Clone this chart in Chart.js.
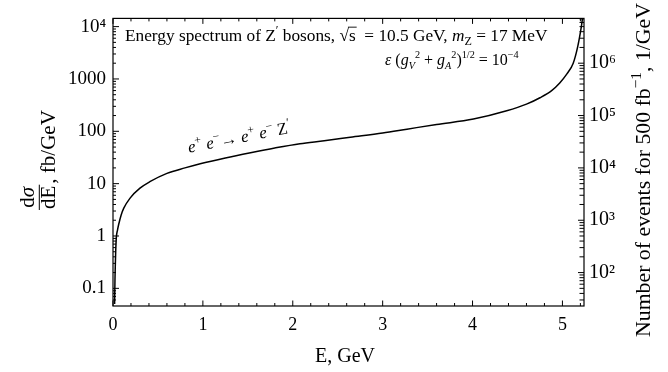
<!DOCTYPE html>
<html>
<head>
<meta charset="utf-8">
<script src="https://cdn.jsdelivr.net/npm/chart.js@4/dist/chart.umd.min.js"></script>
<style>
  html, body { margin: 0; padding: 0; background: #fff; }
  #wrap { width: 668px; height: 372px; }
</style>
</head>
<body>
<div id="wrap"><canvas id="chart" width="668" height="372"></canvas></div>
<script>
// Z' energy (GeV) and differential cross section dσ/dE (fb/GeV)
const energy = [0.018, 0.022, 0.026, 0.03, 0.037, 0.05, 0.063, 0.09, 0.12, 0.19, 0.3, 0.41, 0.6, 0.8, 0.97,
  1.25, 1.53, 1.8, 2.08, 2.35, 2.64, 3.0, 3.27, 3.6, 4.01, 4.38, 4.6, 4.75, 4.88, 4.97, 5.05, 5.12, 5.17, 5.21, 5.225]
const dSigma = [0.05, 0.15, 0.29, 0.5, 0.93, 1.3, 1.66, 2.5, 3.4, 5.3, 8.2, 10.9, 15.7, 20, 24,
  31, 39, 48, 58, 66, 77, 93, 110, 135, 171, 246, 330, 438, 600, 840, 1250, 2000, 4150, 9900, 15000]

// integrated luminosity, fb^-1 (events = dσ/dE * lumi)
const lumi = 500

// axis ranges
const eMax = 5.24
const sigmaMin = 0.046
const sigmaMax = 14350

// tick labels
const eTicks = [0, 1, 2, 3, 4, 5]
const sigmaTicks = [0.1, 1, 10, 100, 1000, 10000]
const sigmaLabels = ['0.1', '1', '10', '100', '1000', '10⁴']
const eventTicks = [1e2, 1e3, 1e4, 1e5, 1e6]
const eventLabels = ['10²', '10³', '10⁴', '10⁵', '10⁶']

const serif = '"Liberation Serif", "Times New Roman", serif'

function font(size, italic){
    return (italic ? 'italic ' : '') + size + 'px ' + serif
}

function findLabel(v, vals, labels){
    let i = vals.findIndex(t => Math.abs(t - v) / t < 1e-6)
    return i < 0 ? '' : labels[i]
}

// draws text pieces on one baseline, sub/sup pieces smaller and shifted
function drawRuns(ctx, x, y, runs, size, k = 0.7){
    let cx = x
    runs.forEach(r => {
        let s = (r.sub || r.sup) ? size * k : size
        let dy = r.sup ? -size * 0.42 : r.sub ? size * 0.24 : 0
        ctx.font = font(s, r.it)
        let w = ctx.measureText(r.t).width
        ctx.fillText(r.t, cx, y + dy)
        if(r.bar){
            ctx.lineWidth = 0.9
            ctx.beginPath()
            ctx.moveTo(cx - 1, y - size * 0.8)
            ctx.lineTo(cx + w + 1, y - size * 0.8)
            ctx.stroke()
        }
        cx += w
    })
    return cx - x
}

function runsWidth(ctx, runs, size, k = 0.7){
    let w = 0
    runs.forEach(r => {
        ctx.font = font((r.sub || r.sup) ? size * k : size, r.it)
        w += ctx.measureText(r.t).width
    })
    return w
}

const titleLine1 = [{t: 'Energy spectrum of Z'}, {t: '′', sup: true}, {t: ' bosons, '}, {t: '√'}, {t: 's', bar: true},
    {t: '  = 10.5 GeV, '}, {t: 'm', it: true}, {t: 'Z', sub: true}, {t: ' = 17 MeV'}]
const titleLine2 = [{t: 'ε', it: true}, {t: ' ('}, {t: 'g', it: true}, {t: 'V', sub: true, it: true}, {t: '2', sup: true},
    {t: ' + '}, {t: 'g', it: true}, {t: 'A', sub: true, it: true}, {t: '2', sup: true}, {t: ')'}, {t: '1/2', sup: true},
    {t: ' = 10'}, {t: '−4', sup: true}]
const processLabel = [{t: 'e', it: true}, {t: '+', sup: true}, {t: ' '}, {t: 'e', it: true}, {t: '−', sup: true},
    {t: '→ '}, {t: 'e', it: true}, {t: '+', sup: true}, {t: ' '}, {t: 'e', it: true}, {t: '−', sup: true},
    {t: ' Z'}, {t: '′', sup: true}]
const rightTitle = [{t: 'Number of events for 500 fb'}, {t: '−1', sup: true}, {t: ', 1/GeV'}]

// inward ticks on one side of the frame
function tickMarks(ctx, scale, side, majorLen, minorLen, isMajor, keep){
    let a = scale.chart.chartArea
    scale.ticks.forEach(t => {
        if(!keep(t.value)) return
        let p = scale.getPixelForValue(t.value)
        let len = isMajor(t.value) ? majorLen : minorLen
        ctx.beginPath()
        if(side == 'left'){ if(p < a.top || p > a.bottom) return; ctx.moveTo(a.left, p); ctx.lineTo(a.left + len, p) }
        if(side == 'right'){ if(p < a.top || p > a.bottom) return; ctx.moveTo(a.right, p); ctx.lineTo(a.right - len, p) }
        if(side == 'bottom'){ if(p < a.left || p > a.right) return; ctx.moveTo(p, a.bottom); ctx.lineTo(p, a.bottom - len) }
        if(side == 'top'){ if(p < a.left || p > a.right) return; ctx.moveTo(p, a.top); ctx.lineTo(p, a.top + len) }
        ctx.stroke()
    })
}

function logMantissa(v){
    let e = Math.floor(Math.log10(v) + 1e-9)
    return v / Math.pow(10, e)
}
let logKeep = v => { let m = logMantissa(v); return Math.abs(m - Math.round(m)) < 1e-6 }
let logMajor = v => Math.abs(logMantissa(v) - 1) < 1e-6
let linKeep = v => true
let linMajor = v => Math.abs(v - Math.round(v)) < 1e-6

const framePlugin = {
    id: 'frame',
    afterDraw(chart){
        let ctx = chart.ctx
        let a = chart.chartArea
        ctx.save()
        ctx.strokeStyle = '#000'
        ctx.fillStyle = '#000'
        ctx.lineWidth = 1.2
        ctx.strokeRect(a.left, a.top, a.right - a.left, a.bottom - a.top)

        ctx.lineWidth = 1
        tickMarks(ctx, chart.scales.x, 'bottom', 5.5, 3, linMajor, linKeep)
        tickMarks(ctx, chart.scales.x, 'top', 5.5, 3, linMajor, linKeep)
        tickMarks(ctx, chart.scales.y, 'left', 6, 3, logMajor, logKeep)
        tickMarks(ctx, chart.scales.y2, 'right', 6, 4.5, logMajor, logKeep)

        // text inside the plot
        ctx.textAlign = 'left'
        ctx.textBaseline = 'alphabetic'
        drawRuns(ctx, 125, 41, titleLine1, 17.3)
        drawRuns(ctx, 385, 65, titleLine2, 16, 0.64)

        ctx.save()
        ctx.translate(189, 152.7)
        ctx.rotate(-11 * Math.PI / 180)
        drawRuns(ctx, 0, 0, processLabel, 17)
        ctx.restore()

        // x title
        ctx.font = font(20)
        ctx.textAlign = 'center'
        ctx.fillText('E, GeV', 345, 362)

        // left title: dσ/dE, fb/GeV read bottom to top
        ctx.save()
        ctx.translate(55, 210)
        ctx.rotate(-Math.PI / 2)
        ctx.textAlign = 'left'
        let fs = 21
        let wNum = runsWidth(ctx, [{t: 'd'}, {t: 'σ', it: true}], fs)
        ctx.font = font(fs)
        let wDen = ctx.measureText('dE').width
        let fw = Math.max(wNum, wDen) + 2
        drawRuns(ctx, (fw - wNum) / 2, -21.5, [{t: 'd'}, {t: 'σ', it: true}], fs)
        ctx.font = font(fs)
        ctx.fillText('dE', (fw - wDen) / 2, 0)
        ctx.lineWidth = 1
        ctx.beginPath()
        ctx.moveTo(0, -15.7)
        ctx.lineTo(fw, -15.7)
        ctx.stroke()
        ctx.font = font(fs)
        ctx.fillText(', fb/GeV', fw + 1, 0)
        ctx.restore()

        // right title
        ctx.save()
        ctx.translate(650, 170)
        ctx.rotate(-Math.PI / 2)
        ctx.textAlign = 'left'
        let rw = runsWidth(ctx, rightTitle, 21.8)
        drawRuns(ctx, -rw / 2, 0, rightTitle, 21.8)
        ctx.restore()

        ctx.restore()
    }
}

let points = energy.map((e, i) => ({x: e, y: dSigma[i]}))

new Chart(document.querySelector('#chart').getContext('2d'), {
    type: 'line',
    data: {
        datasets: [{
            data: points,
            borderColor: '#000',
            borderWidth: 1.5,
            pointRadius: 0,
            fill: false,
            cubicInterpolationMode: 'monotone',
            yAxisID: 'y'
        }]
    },
    options: {
        responsive: false,
        animation: false,
        layout: {padding: {top: 15}},
        plugins: {legend: {display: false}, tooltip: {enabled: false}},
        scales: {
            x: {
                type: 'linear', min: 0, max: eMax,
                grid: {display: false, drawTicks: false},
                border: {display: false},
                ticks: {
                    stepSize: 0.2, includeBounds: false, autoSkip: false, maxRotation: 0,
                    padding: 8, color: '#000', font: {family: serif, size: 18},
                    callback: v => { let r = Math.round(v); return Math.abs(v - r) < 1e-6 && eTicks.includes(r) ? String(r) : '' }
                },
                afterFit: s => { s.height = 66 }
            },
            y: {
                type: 'logarithmic', position: 'left', min: sigmaMin, max: sigmaMax,
                grid: {display: false, drawTicks: false},
                border: {display: false},
                ticks: {
                    autoSkip: false, padding: 7, color: '#000', font: {family: serif, size: 19},
                    callback: v => findLabel(v, sigmaTicks, sigmaLabels)
                },
                afterFit: s => { s.width = 113 }
            },
            y2: {
                type: 'logarithmic', position: 'right', min: sigmaMin * lumi, max: sigmaMax * lumi,
                grid: {display: false, drawTicks: false},
                border: {display: false},
                ticks: {
                    autoSkip: false, padding: 5, color: '#000', font: {family: serif, size: 20},
                    callback: v => findLabel(v, eventTicks, eventLabels)
                },
                afterFit: s => { s.width = 84 }
            }
        }
    },
    plugins: [framePlugin]
})
</script>
</body>
</html>
